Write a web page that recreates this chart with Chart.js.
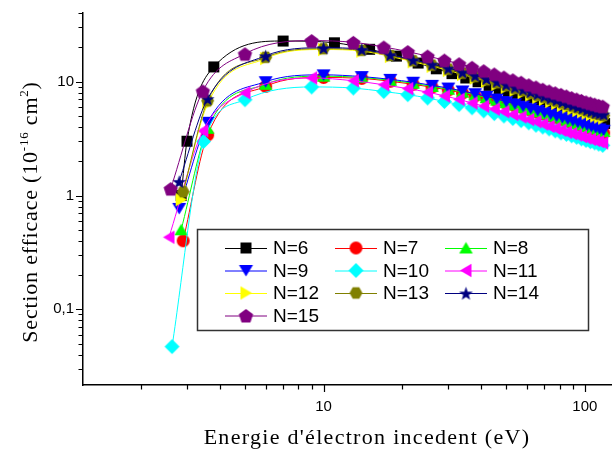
<!DOCTYPE html>
<html>
  <head>
    <meta charset="UTF-8">
    <title>section efficace</title>
    <script src="https://cdn.jsdelivr.net/npm/chart.js@4.4.1/dist/chart.umd.min.js"></script>
    <style type="text/css">
      body { margin: 0; background: #fff; }
    </style>
  </head>
  <body>
    <div>
      <canvas id="myChart" width="612" height="450"></canvas>
    </div>
    <script>
    // energies (eV) of the markers, three grids with a 4 eV step
    var tailA = [7, 11, 15, 19, 23, 27, 31, 35, 39, 43, 47, 51, 55, 59, 63, 67, 71, 75, 79, 83, 87, 91, 95, 99, 103, 107, 111, 115, 119];
    var tailB = [6, 10, 14, 18, 22, 26, 30, 34, 38, 42, 46, 50, 54, 58, 62, 66, 70, 74, 78, 82, 86, 90, 94, 98, 102, 106, 110, 114, 118];
    var tailC = [5, 9, 13, 17, 21, 25, 29, 33, 37, 41, 45, 49, 53, 57, 61, 65, 69, 73, 77, 81, 85, 89, 93, 97, 101, 105, 109, 113, 117];

    // first points near threshold for each N
    var headE = {
      6: [2.85, 3.0, 3.8],
      7: [2.9, 3.6],
      8: [2.85, 3.6],
      9: [2.8, 3.6],
      10: [2.63, 3.47],
      11: [2.56, 3.45],
      12: [2.85, 3.6],
      13: [2.9, 3.6],
      14: [2.8, 3.6],
      15: [2.6, 3.45]
    };

    // cross sections (10^-16 cm2)
    var n6 = [1.0, 3.0, 13.5, 22.8, 22.0, 19.3, 16.8, 14.6, 13.0, 11.8, 10.8, 10.0, 9.3, 8.7, 8.2, 7.7, 7.3, 6.9, 6.6, 6.3, 6.05, 5.8, 5.6, 5.4, 5.2, 5.05, 4.9, 4.75, 4.6, 4.5, 4.4, 4.3];
    var n7 = [0.4, 3.4, 9.1, 10.9, 10.7, 10.1, 9.5, 8.95, 8.45, 7.95, 7.5, 7.1, 6.75, 6.4, 6.1, 5.85, 5.6, 5.35, 5.15, 4.95, 4.8, 4.6, 4.45, 4.35, 4.2, 4.1, 3.95, 3.85, 3.75, 3.65, 3.55];
    var n8 = [0.5, 3.9, 9.5, 11.2, 10.9, 10.3, 9.7, 9.1, 8.6, 8.1, 7.65, 7.25, 6.9, 6.55, 6.25, 5.95, 5.7, 5.45, 5.25, 5.05, 4.9, 4.7, 4.55, 4.45, 4.3, 4.2, 4.05, 3.95, 3.85, 3.75, 3.65];
    var n9 = [0.77, 4.4, 10.0, 11.5, 11.1, 10.5, 9.9, 9.3, 8.8, 8.3, 7.85, 7.45, 7.05, 6.7, 6.4, 6.1, 5.85, 5.6, 5.4, 5.2, 5.0, 4.85, 4.7, 4.55, 4.4, 4.3, 4.15, 4.05, 3.95, 3.85, 3.75];
    var n10 = [0.047, 2.98, 6.95, 9.0, 8.8, 8.2, 7.7, 7.2, 6.7, 6.3, 5.9, 5.55, 5.25, 5.0, 4.75, 4.55, 4.35, 4.15, 4.0, 3.85, 3.7, 3.55, 3.45, 3.35, 3.25, 3.15, 3.05, 2.97, 2.9, 2.83, 2.76];
    var n11 = [0.43, 3.7, 8.0, 10.8, 10.2, 9.4, 8.7, 8.1, 7.5, 7.0, 6.5, 6.1, 5.75, 5.45, 5.15, 4.9, 4.65, 4.45, 4.25, 4.05, 3.9, 3.75, 3.6, 3.5, 3.4, 3.3, 3.2, 3.12, 3.05, 2.98, 2.9];
    var n12 = [0.92, 6.4, 16.0, 19.2, 18.6, 16.7, 15.0, 13.7, 12.6, 11.6, 10.8, 10.1, 9.5, 8.95, 8.45, 8.05, 7.65, 7.3, 7.0, 6.7, 6.45, 6.2, 6.0, 5.8, 5.6, 5.45, 5.3, 5.15, 5.0, 4.9, 4.8];
    var n13 = [1.08, 6.8, 16.4, 19.5, 18.9, 17.0, 15.3, 14.0, 12.9, 11.9, 11.1, 10.4, 9.8, 9.25, 8.75, 8.35, 7.95, 7.6, 7.3, 7.0, 6.75, 6.5, 6.3, 6.1, 5.9, 5.75, 5.55, 5.4, 5.25, 5.15, 5.05];
    var n14 = [1.33, 7.1, 16.9, 19.9, 19.3, 17.3, 15.6, 14.3, 13.2, 12.2, 11.4, 10.7, 10.1, 9.5, 9.0, 8.6, 8.2, 7.85, 7.5, 7.2, 6.95, 6.7, 6.45, 6.25, 6.05, 5.9, 5.7, 5.55, 5.4, 5.3, 5.2];
    var n15 = [1.15, 8.3, 17.6, 23.0, 22.2, 20.2, 18.4, 16.8, 15.5, 14.4, 13.4, 12.5, 11.7, 11.0, 10.4, 9.9, 9.4, 9.0, 8.6, 8.3, 8.0, 7.75, 7.5, 7.25, 7.05, 6.85, 6.65, 6.5, 6.35, 6.2, 6.1];

    var xTicks = [2, 3, 4, 5, 6, 7, 8, 9, 10, 20, 30, 40, 50, 60, 70, 80, 90, 100];
    var yTicks = [0.03, 0.04, 0.05, 0.06, 0.07, 0.08, 0.09, 0.1, 0.2, 0.3, 0.4, 0.5, 0.6, 0.7, 0.8, 0.9, 1, 2, 3, 4, 5, 6, 7, 8, 9, 10, 20, 30, 40];
    var yLabels = { 0.1: '0,1', 1: '1', 10: '10' };

    var series = [
      { n: 6, y: n6, tail: tailA, color: '#000000', marker: 'square' },
      { n: 7, y: n7, tail: tailB, color: '#ff0000', marker: 'circle' },
      { n: 8, y: n8, tail: tailB, color: '#00ff00', marker: 'triUp' },
      { n: 9, y: n9, tail: tailB, color: '#0000ff', marker: 'triDown' },
      { n: 10, y: n10, tail: tailC, color: '#00ffff', marker: 'diamond' },
      { n: 11, y: n11, tail: tailC, color: '#ff00ff', marker: 'triLeft' },
      { n: 12, y: n12, tail: tailB, color: '#ffff00', marker: 'triRight' },
      { n: 13, y: n13, tail: tailB, color: '#808000', marker: 'hexagon' },
      { n: 14, y: n14, tail: tailB, color: '#000080', marker: 'star' },
      { n: 15, y: n15, tail: tailC, color: '#800080', marker: 'pentagon' }
    ];

    function makeMarker(kind, color) {
      var c = document.createElement('canvas');
      var s = 17;
      c.width = s; c.height = s;
      var g = c.getContext('2d');
      var cx = s / 2, cy = s / 2;
      g.fillStyle = color;
      g.beginPath();
      var i, a;
      if (kind == 'square') {
        g.rect(cx - 5.5, cy - 5.5, 11, 11);
      } else if (kind == 'circle') {
        g.arc(cx, cy, 6.5, 0, Math.PI * 2);
      } else if (kind == 'triUp') {
        g.moveTo(cx, cy - 6); g.lineTo(cx + 6.8, cy + 5.5); g.lineTo(cx - 6.8, cy + 5.5);
      } else if (kind == 'triDown') {
        g.moveTo(cx, cy + 6); g.lineTo(cx + 7, cy - 5.5); g.lineTo(cx - 7, cy - 5.5);
      } else if (kind == 'triLeft') {
        g.moveTo(cx - 6, cy); g.lineTo(cx + 5.5, cy - 6.8); g.lineTo(cx + 5.5, cy + 6.8);
      } else if (kind == 'triRight') {
        g.moveTo(cx + 6, cy); g.lineTo(cx - 5.5, cy - 6.8); g.lineTo(cx - 5.5, cy + 6.8);
      } else if (kind == 'diamond') {
        g.moveTo(cx, cy - 7.5); g.lineTo(cx + 7.5, cy); g.lineTo(cx, cy + 7.5); g.lineTo(cx - 7.5, cy);
      } else if (kind == 'hexagon') {
        for (i = 0; i < 6; i++) {
          a = i * Math.PI / 3;
          g.lineTo(cx + 6.5 * Math.cos(a), cy + 6.5 * Math.sin(a));
        }
      } else if (kind == 'pentagon') {
        for (i = 0; i < 5; i++) {
          a = -Math.PI / 2 + i * 2 * Math.PI / 5;
          g.lineTo(cx + 7.5 * Math.cos(a), cy + 1 + 7.5 * Math.sin(a));
        }
      } else if (kind == 'star') {
        for (i = 0; i < 10; i++) {
          a = -Math.PI / 2 + i * Math.PI / 5;
          var r = i % 2 ? 2.9 : 7.2;
          g.lineTo(cx + r * Math.cos(a), cy + 1 + r * Math.sin(a));
        }
      }
      g.closePath();
      g.fill();
      return c;
    }

    var datasets = [];
    for (var i = 0; i < series.length; i++) {
      var sr = series[i];
      var xs = headE[sr.n].concat(sr.tail);
      var pts = [];
      for (var j = 0; j < sr.y.length; j++) {
        pts.push({ x: xs[j], y: sr.y[j] });
      }
      datasets.push({
        label: 'N=' + sr.n,
        data: pts,
        borderColor: sr.color,
        backgroundColor: sr.color,
        borderWidth: 1,
        pointStyle: makeMarker(sr.marker, sr.color),
        pointRadius: 6,
        cubicInterpolationMode: 'monotone',
        order: 15 - sr.n,
        fill: false
      });
    }

    var decor = {
      id: 'decor',
      afterDraw: function(chart) {
        var ctx = chart.ctx;
        var xs = chart.scales.x, ys = chart.scales.y;
        var area = chart.chartArea;
        ctx.save();
        // tick marks
        ctx.strokeStyle = '#000';
        ctx.lineWidth = 1.2;
        ctx.beginPath();
        xTicks.forEach(function(v) {
          var px = Math.round(xs.getPixelForValue(v)) + 0.5;
          var len = (v == 10 || v == 100) ? 7 : 4.5;
          ctx.moveTo(px, area.bottom);
          ctx.lineTo(px, area.bottom + len);
        });
        yTicks.forEach(function(v) {
          var py = Math.round(ys.getPixelForValue(v)) + 0.5;
          var len = yLabels[v] ? 7 : 4.5;
          ctx.moveTo(area.left, py);
          ctx.lineTo(area.left - len, py);
        });
        ctx.stroke();

        // axis titles
        ctx.fillStyle = '#000';
        ctx.font = '22px "Liberation Serif"';
        ctx.letterSpacing = '1.3px';
        ctx.textAlign = 'center';
        ctx.textBaseline = 'alphabetic';
        ctx.fillText("Energie d'\u00e9lectron incedent (eV)", 367, 444);

        ctx.letterSpacing = '0.8px';
        var parts = [
          ['Section efficace (10', 22, 0],
          ['-16', 13, -9],
          [' cm', 22, 0],
          ['2', 13, -9],
          [')', 22, 0]
        ];
        var total = 0;
        parts.forEach(function(p) {
          ctx.font = p[1] + 'px "Liberation Serif"';
          p.push(ctx.measureText(p[0]).width);
          total += p[3];
        });
        ctx.translate(37, 212);
        ctx.rotate(-Math.PI / 2);
        ctx.textAlign = 'left';
        var pos = -total / 2;
        parts.forEach(function(p) {
          ctx.font = p[1] + 'px "Liberation Serif"';
          ctx.fillText(p[0], pos, p[2]);
          pos += p[3];
        });
        ctx.setTransform(1, 0, 0, 1, 0, 0);
        ctx.letterSpacing = '0px';

        // legend box
        ctx.strokeStyle = '#333';
        ctx.lineWidth = 1.5;
        ctx.fillStyle = '#fff';
        ctx.fillRect(197, 229, 391, 102);
        ctx.strokeRect(197.5, 229.5, 391, 101);
        var colX = [225, 335, 445];
        var rowY = [248, 270.5, 293, 315.5];
        ctx.font = '19px "Liberation Sans"';
        ctx.textAlign = 'left';
        ctx.textBaseline = 'middle';
        chart.data.datasets.forEach(function(ds, k) {
          var lx = colX[k % 3], ly = rowY[Math.floor(k / 3)];
          ctx.strokeStyle = ds.borderColor;
          ctx.lineWidth = 1;
          ctx.beginPath();
          ctx.moveTo(lx, ly + 0.5);
          ctx.lineTo(lx + 42, ly + 0.5);
          ctx.stroke();
          var m = ds.pointStyle;
          ctx.drawImage(m, lx + 21 - m.width / 2, ly - m.height / 2);
          ctx.fillStyle = '#000';
          ctx.fillText(ds.label, lx + 48, ly + 1);
        });
        ctx.restore();
      }
    };

    var ctx = document.getElementById('myChart').getContext('2d');
    var chart = new Chart(ctx, {
      type: 'line',
      data: { datasets: datasets },
      options: {
        responsive: false,
        animation: false,
        events: [],
        layout: { autoPadding: false, padding: { top: 13, right: 0, bottom: 0, left: 0 } },
        plugins: { legend: { display: false }, tooltip: { enabled: false } },
        scales: {
          x: {
            type: 'logarithmic',
            min: 1.2,
            max: 127,
            grid: { display: false, drawTicks: true, tickLength: 7 },
            border: { display: true, color: '#000', width: 1.5 },
            ticks: {
              autoSkip: false,
              maxRotation: 0,
              padding: 6,
              color: '#000',
              font: { family: 'Liberation Sans', size: 15 },
              callback: function(v) { return (v == 10 || v == 100) ? String(v) : ''; }
            },
            afterBuildTicks: function(s) { s.ticks = xTicks.map(function(v) { return { value: v }; }); },
            afterFit: function(s) { s.height = 65; s.paddingLeft = 0; s.paddingRight = 0; }
          },
          y: {
            type: 'logarithmic',
            min: 0.0216,
            max: 40.2,
            grid: { display: false, drawTicks: true, tickLength: 7 },
            border: { display: true, color: '#000', width: 1.5 },
            ticks: {
              autoSkip: false,
              padding: 2,
              color: '#000',
              font: { family: 'Liberation Sans', size: 15 },
              callback: function(v) { return yLabels[v] || ''; }
            },
            afterBuildTicks: function(s) { s.ticks = yTicks.map(function(v) { return { value: v }; }); },
            afterFit: function(s) { s.width = 83; s.paddingTop = 0; s.paddingBottom = 0; }
          }
        }
      },
      plugins: [decor]
    });
    </script>
  </body>
</html>
